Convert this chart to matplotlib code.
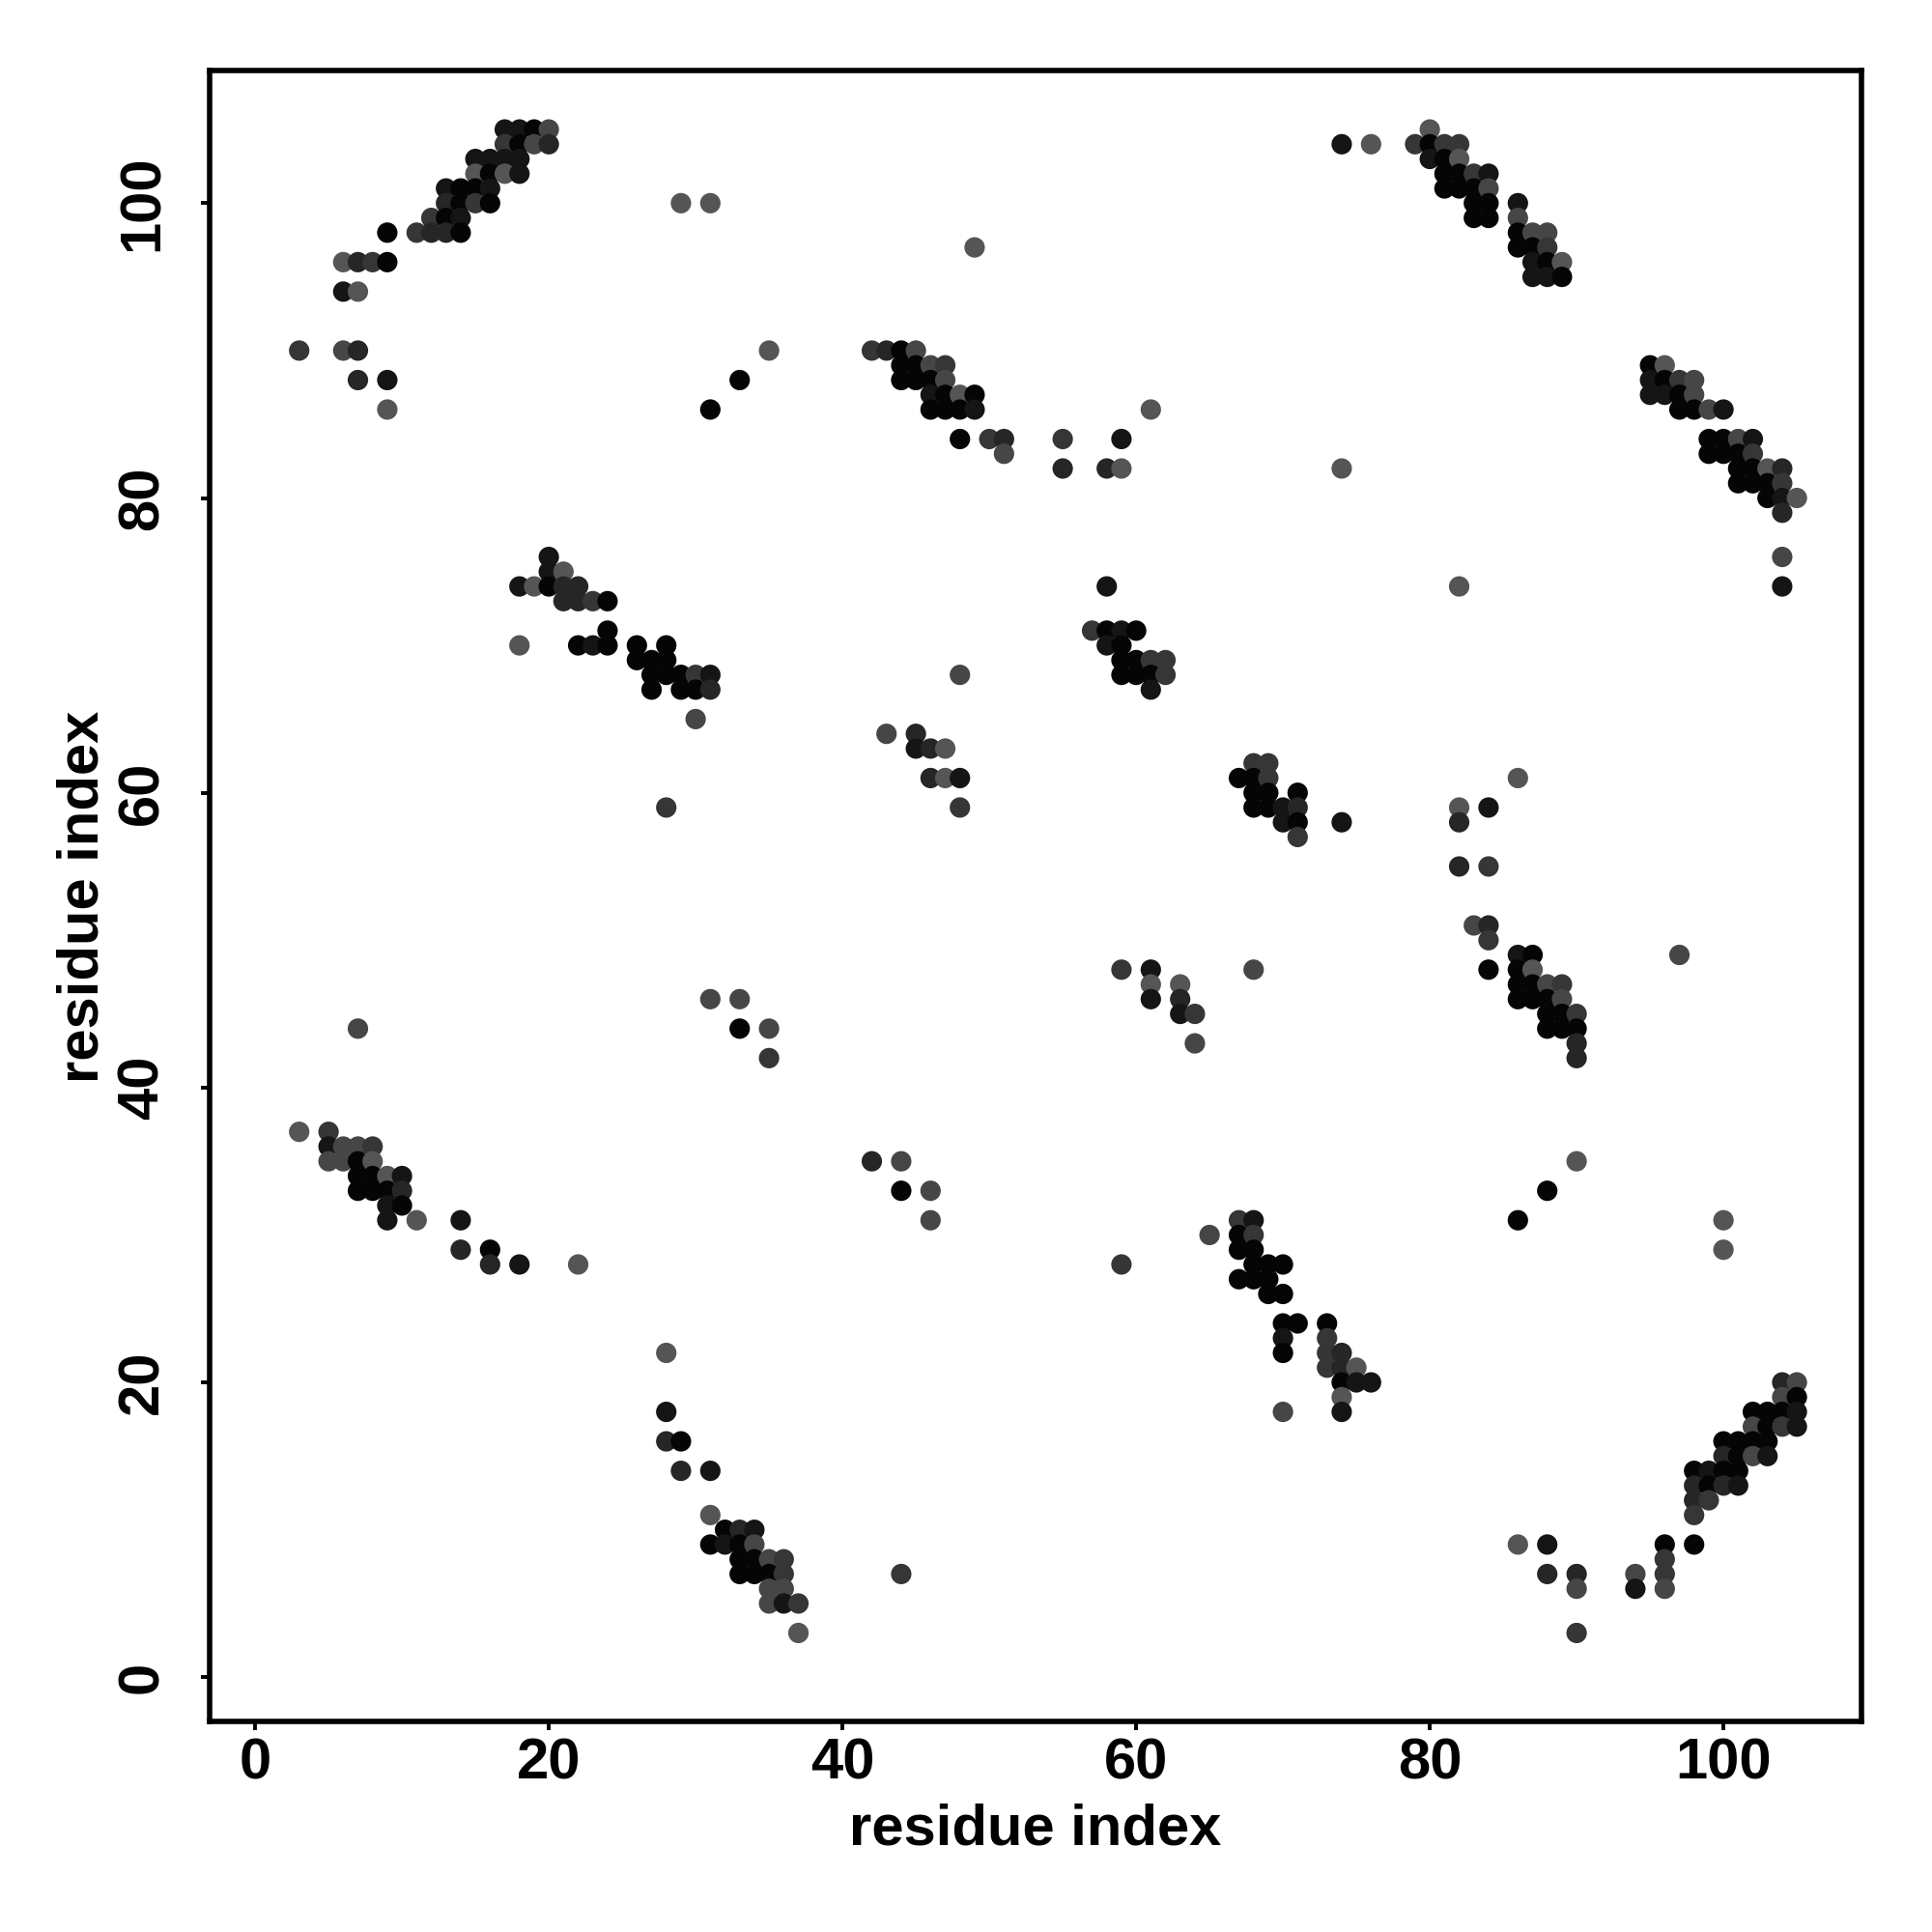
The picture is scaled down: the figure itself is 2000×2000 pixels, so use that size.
import matplotlib
matplotlib.use("Agg")
import matplotlib.pyplot as plt

# ---- data: residue pairs (i, j) and shade level (0 = black ... 5 = mid grey) ----
res_i = [
    # top-left
    17, 18, 19, 20, 17, 18, 19, 20, 15, 16, 17, 18, 15, 16, 17, 18,
    13, 14, 15, 16, 13, 14, 15, 16, 29, 31, 12, 13, 14, 9, 11, 12, 13, 14,
    6, 7, 8, 9, 6, 7, 3, 6, 7, 35, 7, 9, 33, 9, 31,
    20, 20, 21, 18, 19, 20, 21, 22, 21, 22, 23, 24, 24,
    # top-middle
    49, 42, 43, 44, 45, 44, 45, 46, 47, 44, 45, 46, 47,
    46, 47, 48, 49, 46, 47, 48, 49, 61, 48, 50, 51, 55, 59, 51,
    55, 58, 59, 58, 57, 58, 59, 60,
    # top-right
    80, 74, 76, 79, 80, 81, 82, 80, 81, 82, 81, 82, 83, 84, 81, 82, 83, 84,
    83, 84, 86, 83, 84, 86, 86, 87, 88, 86, 87, 88, 87, 88, 89, 87, 88, 89,
    95, 96, 95, 96, 97, 98, 95, 96, 97, 98, 97, 98, 99, 100,
    99, 100, 101, 102, 99, 100, 101, 102, 101, 102, 103, 104,
    101, 102, 103, 104, 103, 104, 105, 104, 74, 104, 82, 104,
    # middle-left
    18, 22, 23, 24, 26, 28, 26, 27, 28, 27, 28, 29, 30, 31, 27, 29, 30, 31,
    30, 28, 31, 33, 7, 33, 35, 35, 3, 5, 5, 6, 7, 8,
    # middle
    58, 59, 59, 60, 61, 62, 48, 59, 60, 61, 62, 61,
    43, 45, 45, 46, 47, 46, 47, 48, 48,
    68, 69, 67, 68, 69, 68, 69, 71, 68, 69, 70, 71, 70, 71, 71,
    59, 61, 68, 61, 63, 61, 63, 63, 64, 64,
    # middle-right
    86, 82, 84, 74, 82, 82, 84, 83, 84, 84, 86, 87, 97, 84, 86, 87,
    86, 87, 88, 89, 86, 87, 88, 89, 88, 89, 90, 88, 89, 90, 90, 90,
    # bottom-left
    5, 6, 7, 8, 7, 8, 9, 10, 7, 8, 9, 10, 9, 10, 9, 11, 14, 14, 16,
    16, 18, 22, 28, 28, 28, 29, 29, 31, 31,
    32, 33, 34, 31, 32, 33, 34, 33, 34, 35, 36, 33, 34, 35, 36,
    35, 36, 35, 36, 37, 37,
    # bottom-middle
    42, 44, 44, 46, 46, 65, 67, 68, 67, 68, 67, 68, 59, 68, 69, 70,
    67, 68, 69, 69, 70, 70, 71, 70, 70, 70, 44,
    # bottom-right
    90, 88, 86, 100, 100, 73, 73, 73, 74, 73, 74, 75, 74, 75, 76, 74, 74,
    104, 105, 104, 105, 102, 103, 104, 105, 102, 103, 104, 105,
    100, 101, 102, 103, 100, 101, 102, 103, 98, 99, 100, 101, 98, 99, 100, 101,
    98, 99, 98, 86, 88, 96, 98, 96, 88, 90, 94, 96, 90, 94, 96, 90,
]
res_j = [
    105, 105, 105, 105, 104, 104, 104, 104, 103, 103, 103, 103, 102, 102, 102, 102,
    101, 101, 101, 101, 100, 100, 100, 100, 100, 100, 99, 99, 99, 98, 98, 98, 98, 98,
    96, 96, 96, 96, 94, 94, 90, 90, 90, 90, 88, 88, 88, 86, 86,
    76, 75, 75, 74, 74, 74, 74, 74, 73, 73, 73, 73, 71,
    97, 90, 90, 90, 90, 89, 89, 89, 89, 88, 88, 88, 88,
    87, 87, 87, 87, 86, 86, 86, 86, 86, 84, 84, 84, 84, 84, 83,
    82, 82, 82, 74, 71, 71, 71, 71,
    105, 104, 104, 104, 104, 104, 104, 103, 103, 103, 102, 102, 102, 102, 101, 101, 101, 101,
    100, 100, 100, 99, 99, 99, 98, 98, 98, 97, 97, 97, 96, 96, 96, 95, 95, 95,
    89, 89, 88, 88, 88, 88, 87, 87, 87, 87, 86, 86, 86, 86,
    84, 84, 84, 84, 83, 83, 83, 83, 82, 82, 82, 82,
    81, 81, 81, 81, 80, 80, 80, 79, 82, 76, 74, 74,
    70, 70, 70, 70, 70, 70, 69, 69, 69, 68, 68, 68, 68, 68, 67, 67, 67, 67,
    65, 59, 46, 46, 44, 44, 44, 42, 37, 37, 36, 36, 36, 36,
    70, 70, 69, 69, 69, 69, 68, 68, 68, 68, 68, 67,
    64, 64, 63, 63, 63, 61, 61, 61, 59,
    62, 62, 61, 61, 61, 60, 60, 60, 59, 59, 59, 59, 58, 58, 57,
    48, 48, 48, 47, 47, 46, 46, 45, 45, 43,
    61, 59, 59, 58, 58, 55, 55, 51, 51, 50, 49, 49, 49, 48, 48, 48,
    47, 47, 47, 47, 46, 46, 46, 46, 45, 45, 45, 44, 44, 44, 43, 42,
    35, 35, 35, 35, 34, 34, 34, 34, 33, 33, 33, 33, 32, 32, 31, 31, 31, 29, 29,
    28, 28, 28, 22, 18, 16, 16, 14, 14, 11,
    10, 10, 10, 9, 9, 9, 9, 8, 8, 8, 8, 7, 7, 7, 7,
    6, 6, 5, 5, 5, 3,
    35, 35, 33, 33, 31, 30, 31, 31, 30, 30, 29, 29, 28, 28, 28, 28,
    27, 27, 27, 26, 26, 24, 24, 23, 22, 18, 7,
    35, 33, 31, 31, 29, 24, 23, 22, 22, 21, 21, 21, 20, 20, 20, 19, 18,
    20, 20, 19, 19, 18, 18, 18, 18, 17, 17, 17, 17,
    16, 16, 16, 16, 15, 15, 15, 15, 14, 14, 14, 14, 13, 13, 13, 13,
    12, 12, 11, 9, 9, 9, 9, 8, 7, 7, 7, 7, 6, 6, 6, 3,
]
shade = [
    1, 1, 0, 4, 3, 0, 4, 2, 1, 1, 1, 1, 5, 0, 5, 1,
    1, 0, 0, 1, 2, 0, 3, 0, 5, 5, 3, 0, 1, 0, 3, 2, 2, 0,
    5, 2, 3, 0, 1, 5, 3, 4, 2, 5, 2, 1, 0, 5, 0,
    1, 1, 5, 1, 5, 0, 2, 2, 2, 2, 3, 0, 0,
    5, 3, 2, 0, 4, 0, 0, 4, 3, 0, 0, 0, 4,
    1, 0, 5, 0, 0, 0, 0, 1, 5, 0, 3, 2, 3, 1, 4,
    2, 2, 5, 1, 3, 0, 1, 0,
    5, 1, 5, 3, 0, 3, 3, 1, 0, 5, 0, 0, 3, 1, 0, 0, 0, 4,
    0, 0, 1, 0, 0, 4, 0, 4, 4, 0, 0, 3, 1, 0, 5, 1, 1, 0,
    0, 5, 1, 0, 3, 4, 1, 1, 0, 4, 0, 0, 4, 1,
    0, 0, 4, 1, 0, 0, 0, 3, 0, 0, 5, 2,
    0, 0, 0, 3, 0, 1, 5, 2, 5, 4, 5, 1,
    5, 0, 1, 0, 0, 0, 0, 0, 0, 0, 0, 0, 3, 1, 0, 0, 0, 2,
    4, 3, 4, 4, 4, 0, 4, 3, 5, 3, 1, 4, 4, 3,
    1, 0, 0, 0, 3, 3, 4, 0, 0, 0, 3, 1,
    4, 2, 1, 2, 5, 2, 5, 1, 3,
    3, 3, 0, 0, 3, 0, 0, 0, 0, 0, 1, 2, 1, 0, 3,
    3, 1, 4, 5, 5, 1, 2, 1, 3, 4,
    5, 5, 1, 1, 2, 2, 3, 4, 2, 3, 1, 0, 4, 0, 0, 5,
    0, 0, 4, 3, 0, 0, 0, 4, 0, 0, 3, 0, 0, 0, 2, 2,
    4, 4, 0, 5, 0, 0, 5, 1, 0, 0, 0, 2, 1, 0, 1, 5, 1, 2, 0,
    2, 1, 5, 5, 1, 2, 0, 2, 1, 5,
    0, 2, 1, 0, 1, 0, 4, 0, 0, 4, 3, 0, 0, 0, 3,
    4, 4, 4, 1, 3, 5,
    2, 4, 0, 4, 4, 4, 3, 1, 0, 3, 0, 0, 3, 0, 0, 0,
    0, 0, 0, 0, 0, 0, 0, 1, 0, 4, 3,
    5, 0, 0, 5, 5, 0, 3, 3, 2, 3, 2, 5, 0, 1, 1, 5, 1,
    2, 4, 4, 0, 0, 0, 0, 1, 4, 0, 3, 1,
    0, 0, 0, 0, 2, 0, 4, 1, 0, 1, 0, 0, 2, 0, 2, 1,
    2, 3, 3, 5, 1, 0, 0, 3, 2, 2, 4, 3, 4, 1, 4, 3,
]

tick_values = [0, 20, 40, 60, 80, 100]
axis_title = "residue index"

grey_levels = ["#050505", "#151515", "#262626", "#363636", "#464646", "#555555"]

assert len(res_i) == len(res_j) == len(shade)

plt.rcParams["font.family"] = ["Liberation Sans", "DejaVu Sans"]
plt.rcParams["font.weight"] = "bold"

fig = plt.figure(figsize=(10, 10), dpi=200)
ax = fig.add_axes([217 / 2000, 1 - 1782 / 2000, 1710 / 2000, 1709 / 2000])

colors = [grey_levels[s] for s in shade]
ax.scatter(res_i, res_j, s=58, c=colors, edgecolors="none", zorder=3)

ax.set_xlim(-3.1, 109.4)
ax.set_ylim(-3.0, 109.0)
ax.set_xticks(tick_values)
ax.set_yticks(tick_values)
ax.set_xticklabels([str(v) for v in tick_values], fontsize=21.5, fontweight="bold")
ax.set_yticklabels([str(v) for v in tick_values], fontsize=21.5, fontweight="bold",
                   rotation=90, va="center")

for sp in ax.spines.values():
    sp.set_linewidth(2.0)
    sp.set_color("black")

ax.tick_params(axis="both", direction="out", length=3.4, width=1.4, color="black")
ax.tick_params(axis="x", pad=2.5)
ax.tick_params(axis="y", pad=11.5)

fig.text(1072 / 2000, 1 - 1909 / 2000, axis_title, fontsize=21.5, fontweight="bold",
         ha="center", va="baseline")
fig.text(102 / 2000, 1 - 928 / 2000, axis_title, fontsize=21.5, fontweight="bold",
         ha="center", va="baseline", rotation=90, rotation_mode="anchor")

fig.savefig("out.png", dpi=200, facecolor="white")
